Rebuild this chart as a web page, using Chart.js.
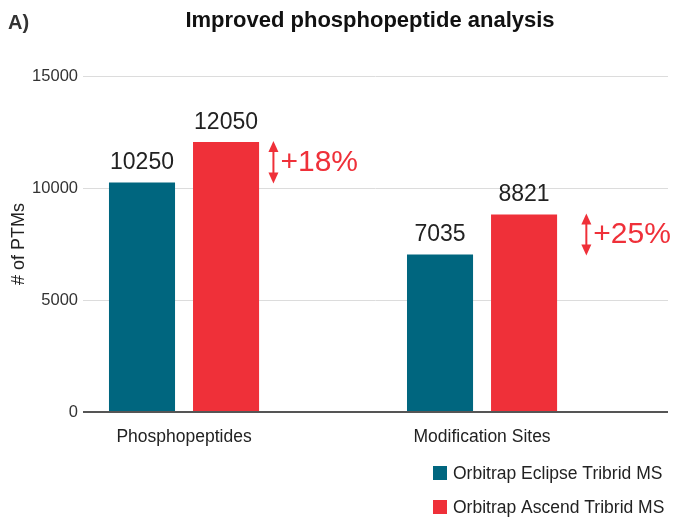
<!DOCTYPE html>
<html>
<head>
<meta charset="utf-8">
<script src="https://cdn.jsdelivr.net/npm/chart.js@4/dist/chart.umd.min.js"></script>
<style>
  html, body { margin: 0; padding: 0; background: #fff; }
  #wrap { width: 673px; height: 520px; }
</style>
</head>
<body>
<div id="wrap"><canvas id="chart" width="673" height="520"></canvas></div>
<script>
// data
const categories = ['Phosphopeptides', 'Modification Sites'];
const seriesNames = ['Orbitrap Eclipse Tribrid MS', 'Orbitrap Ascend Tribrid MS'];
const eclipseValues = [10250, 7035];
const ascendValues = [12050, 8821];
const gainLabels = ['+18%', '+25%'];
const yTicks = [0, 5000, 10000, 15000];

const teal = '#00667f';
const red = '#ef3039';
const font = "'Liberation Sans', Arial, sans-serif";

const chartCanvas = document.getElementById('chart');

// where the double arrows sit, in x-axis units (0 = first category)
const arrowAt = [0.30, 1.35];

const extras = {
  id: 'extras',
  afterDatasetsDraw(chart) {
    const ctx = chart.ctx;
    const x = chart.scales.x, y = chart.scales.y;

    // value labels over the bars
    ctx.save();
    ctx.font = '23px ' + font;
    ctx.fillStyle = '#222';
    ctx.textAlign = 'center';
    ctx.textBaseline = 'alphabetic';
    chart.data.datasets.forEach((ds, di) => {
      chart.getDatasetMeta(di).data.forEach((bar, i) => {
        ctx.fillText(String(ds.data[i].y), bar.x, bar.y - 13);
      });
    });

    // red double arrows with the gain
    ctx.strokeStyle = red;
    ctx.fillStyle = red;
    ctx.lineWidth = 2;
    categories.forEach((c, i) => {
      const ax = x.getPixelForValue(arrowAt[i]);
      const top = y.getPixelForValue(ascendValues[i]);
      const bot = y.getPixelForValue(eclipseValues[i]);
      ctx.beginPath();
      ctx.moveTo(ax, top + 6);
      ctx.lineTo(ax, bot - 6);
      ctx.stroke();
      ctx.beginPath();
      ctx.moveTo(ax, top - 1);
      ctx.lineTo(ax - 5, top + 10);
      ctx.lineTo(ax + 5, top + 10);
      ctx.closePath();
      ctx.fill();
      ctx.beginPath();
      ctx.moveTo(ax, bot + 1);
      ctx.lineTo(ax - 5, bot - 10);
      ctx.lineTo(ax + 5, bot - 10);
      ctx.closePath();
      ctx.fill();
      ctx.font = '30px ' + font;
      ctx.textAlign = 'left';
      ctx.textBaseline = 'middle';
      ctx.fillText(gainLabels[i], ax + 7, (top + bot) / 2);
    });
    ctx.restore();
  },
  afterDraw(chart) {
    const ctx = chart.ctx;
    const area = chart.chartArea;
    ctx.save();
    // panel letter and title
    ctx.fillStyle = '#333';
    ctx.font = 'bold 20px ' + font;
    ctx.textBaseline = 'middle';
    ctx.textAlign = 'left';
    ctx.fillText('A)', 8, 23);
    ctx.fillStyle = '#111';
    ctx.font = 'bold 22px ' + font;
    ctx.textAlign = 'center';
    ctx.fillText('Improved phosphopeptide analysis', 370, 21);

    // legend, stacked, bottom right
    ctx.font = '17.5px ' + font;
    ctx.textAlign = 'left';
    chart.data.datasets.forEach((ds, i) => {
      const cy = 473 + i * 34;
      ctx.fillStyle = ds.backgroundColor;
      ctx.fillRect(433, cy - 7, 14, 14);
      ctx.fillStyle = '#222';
      ctx.fillText(ds.label, 453, cy + 1);
    });
    ctx.restore();
  }
};

const chart = new Chart(chartCanvas, {
  type: 'bar',
  data: {
    datasets: [
      {
        label: seriesNames[0],
        data: eclipseValues.map((v, i) => ({ x: i, y: v })),
        backgroundColor: teal
      },
      {
        label: seriesNames[1],
        data: ascendValues.map((v, i) => ({ x: i, y: v })),
        backgroundColor: red
      }
    ]
  },
  options: {
    responsive: false,
    animation: false,
    categoryPercentage: 0.564,
    barPercentage: 0.786,
    layout: { padding: { top: 76, right: 5, bottom: 68, left: 0 } },
    plugins: {
      legend: { display: false },
      title: { display: false },
      tooltip: { enabled: false }
    },
    scales: {
      x: {
        type: 'linear',
        offset: false,
        min: -0.339,
        max: 1.624,
        grid: { display: false },
        border: { display: false },
        afterBuildTicks: (scale) => {
          scale.ticks = categories.map((c, i) => ({ value: i }));
        },
        afterFit: (scale) => { scale.height = 40; },
        ticks: {
          autoSkip: false,
          maxRotation: 0,
          padding: 7,
          color: '#222',
          font: { family: font, size: 17.5 },
          callback: (v) => categories[v]
        }
      },
      y: {
        min: 0,
        max: 15000,
        afterBuildTicks: (scale) => {
          scale.ticks = yTicks.map(v => ({ value: v }));
        },
        afterFit: (scale) => { scale.width = 83; },
        border: { display: false },
        grid: {
          drawTicks: false,
          color: (c) => c.tick && c.tick.value === 0 ? '#555' : '#dcdcdc',
          lineWidth: (c) => c.tick && c.tick.value === 0 ? 2 : 1
        },
        ticks: {
          padding: 5,
          color: '#333',
          font: { family: font, size: 16.5 },
          callback: (v) => String(v)
        },
        title: {
          display: true,
          text: '# of PTMs',
          color: '#222',
          padding: { top: 8, bottom: 0 },
          font: { family: font, size: 18 }
        }
      }
    }
  },
  plugins: [extras]
});
</script>
</body>
</html>
